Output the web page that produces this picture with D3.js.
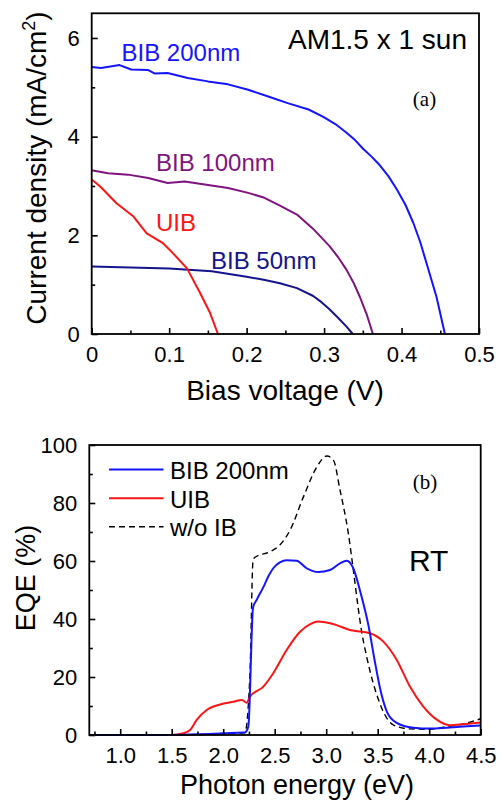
<!DOCTYPE html>
<html>
<head>
<meta charset="utf-8">
<script src="https://cdn.jsdelivr.net/npm/d3@7"></script>
<style>
  html, body { margin: 0; padding: 0; background: #fff; }
  svg { display: block; font-family: "Liberation Sans", Arial, Helvetica, sans-serif; }
</style>
</head>
<body>
<svg id="chart" width="502" height="800"></svg>
<script>
// ---------- Panel (a): J-V curves ----------
const jvVoltTicks = [0, 0.1, 0.2, 0.3, 0.4, 0.5];
const jvCurTicks = [0, 2, 4, 6];

const bib200V = [0, 0.012, 0.036, 0.051, 0.073, 0.081, 0.098, 0.124, 0.150, 0.176, 0.202, 0.227, 0.253, 0.28, 0.299, 0.315, 0.329, 0.340, 0.350, 0.361, 0.372, 0.383, 0.394, 0.405, 0.415, 0.424, 0.432, 0.445, 0.456];
const bib200J = [5.41, 5.39, 5.45, 5.36, 5.35, 5.28, 5.29, 5.19, 5.12, 5.06, 4.95, 4.82, 4.68, 4.55, 4.40, 4.25, 4.08, 3.93, 3.76, 3.60, 3.42, 3.20, 2.93, 2.62, 2.26, 1.87, 1.45, 0.76, 0];

const bib100V = [0, 0.021, 0.047, 0.073, 0.098, 0.12, 0.146, 0.176, 0.202, 0.223, 0.243, 0.265, 0.286, 0.307, 0.318, 0.329, 0.338, 0.346, 0.355, 0.363];
const bib100J = [3.32, 3.26, 3.23, 3.16, 3.06, 3.09, 3.03, 2.96, 2.86, 2.76, 2.60, 2.42, 2.13, 1.78, 1.56, 1.30, 1.04, 0.76, 0.40, 0];

const bib50V = [0, 0.05, 0.1, 0.155, 0.2, 0.222, 0.243, 0.265, 0.286, 0.297, 0.307, 0.318, 0.329, 0.337];
const bib50J = [1.37, 1.35, 1.33, 1.27, 1.16, 1.10, 1.03, 0.93, 0.77, 0.64, 0.50, 0.33, 0.15, 0];

const uibV = [0, 0.011, 0.032, 0.054, 0.071, 0.092, 0.103, 0.123, 0.140, 0.153, 0.163];
const uibJ = [3.13, 2.99, 2.65, 2.38, 2.04, 1.84, 1.67, 1.33, 0.83, 0.42, 0];

// ---------- Panel (b): EQE spectra ----------
const eqeEnergyTicks = [1.0, 1.5, 2.0, 2.5, 3.0, 3.5, 4.0, 4.5];
const eqeTicks = [0, 20, 40, 60, 80, 100];

const eqeBibE = [0.7, 1.0, 1.5, 1.8, 2.0, 2.195, 2.21, 2.244, 2.29, 2.325, 2.39, 2.44, 2.486, 2.55, 2.616, 2.713, 2.81, 2.923, 3.037, 3.134, 3.2, 3.263, 3.33, 3.41, 3.474, 3.53, 3.59, 3.68, 3.846, 4.01, 4.17, 4.33, 4.5];
const eqeBibV = [0, 0, 0, 0.3, 0.6, 0.9, 0.9, 2.9, 44, 46.6, 51, 54.8, 57.5, 59.5, 60.3, 60.1, 57.5, 56.2, 56.9, 59.2, 60.1, 57.5, 49.5, 37.8, 25, 15, 8, 4.3, 2.5, 2.2, 2.5, 2.9, 3.3];

const eqeUibE = [0.7, 1.0, 1.5, 1.613, 1.678, 1.743, 1.84, 1.97, 2.1, 2.18, 2.228, 2.26, 2.39, 2.486, 2.616, 2.746, 2.85, 2.923, 3.037, 3.1, 3.23, 3.425, 3.555, 3.685, 3.813, 3.943, 4.07, 4.2, 4.33, 4.5];
const eqeUibV = [0, 0, 0, 0.6, 1.7, 5.2, 8.6, 10.5, 11.5, 12.1, 11.1, 13.2, 16.7, 21.3, 29.3, 35.6, 38.3, 39.1, 38.5, 37.9, 36.2, 35.1, 32.2, 25.9, 16.7, 9.8, 5.4, 3.4, 3.7, 4.3];

const eqeNoIbE = [0.7, 1.0, 1.5, 2.0, 2.21, 2.26, 2.29, 2.31, 2.454, 2.55, 2.65, 2.78, 2.91, 3.005, 3.07, 3.134, 3.215, 3.263, 3.31, 3.345, 3.393, 3.457, 3.49, 3.555, 3.6, 3.65, 3.81, 4.01, 4.17, 4.33, 4.5];
const eqeNoIbV = [0, 0, 0, 0.5, 0.8, 21.3, 60.3, 61.3, 63.2, 65.5, 70.7, 82.2, 92.5, 96.2, 94.8, 84.5, 69.5, 57, 44, 35.5, 27, 17.8, 14, 8, 5.2, 3.5, 2.1, 2.0, 2.9, 3.8, 5.6];

const legendLabels = ["BIB 200nm", "UIB", "w/o IB"];

// ---------- drawing ----------
const svg = d3.select("#chart");
const BLUE = "#1414ff", RED = "#ff1414", PURPLE = "#7f147f", NAVY = "#14148c";

function zip(xs, ys) { return xs.map((x, i) => [x, ys[i]]); }

function drawFrame(g, x, y, xMajor, xMinor, yMajor, yMinor, xFmt, yFmt) {
  const [x0, x1] = x.range(), [y0, y1] = y.range(); // y0 bottom, y1 top
  const axB = d3.axisBottom(x).tickValues(xMajor).tickSizeInner(-6).tickSizeOuter(0).tickPadding(12).tickFormat(xFmt);
  const gb = g.append("g").attr("transform", `translate(0,${y0})`).call(axB);
  const axBm = d3.axisBottom(x).tickValues(xMinor).tickSizeInner(-3.5).tickSizeOuter(0).tickFormat("");
  const gbm = g.append("g").attr("transform", `translate(0,${y0})`).call(axBm);
  const axL = d3.axisLeft(y).tickValues(yMajor).tickSizeInner(-6).tickSizeOuter(0).tickPadding(12).tickFormat(yFmt);
  const gl = g.append("g").attr("transform", `translate(${x0},0)`).call(axL);
  const axLm = d3.axisLeft(y).tickValues(yMinor).tickSizeInner(-3.5).tickSizeOuter(0).tickFormat("");
  const glm = g.append("g").attr("transform", `translate(${x0},0)`).call(axLm);
  [gb, gbm, gl, glm].forEach(a => {
    a.select(".domain").remove();
    a.selectAll("line").attr("stroke", "#000").attr("stroke-width", 1.6);
    a.selectAll("text").attr("fill", "#000").attr("font-size", 22)
      .attr("font-family", '"Liberation Sans", Arial, sans-serif');
  });
  gb.selectAll("text").attr("dy", "0.71em");
  g.append("rect").attr("x", x0).attr("y", y1).attr("width", x1 - x0).attr("height", y0 - y1)
    .attr("fill", "none").attr("stroke", "#000").attr("stroke-width", 1.8);
}

function addLine(g, x, y, data, color, width, dash, curve) {
  const p = g.append("path").datum(data)
    .attr("d", d3.line().x(d => x(d[0])).y(d => y(d[1])).curve(curve || d3.curveLinear))
    .attr("fill", "none").attr("stroke", color).attr("stroke-width", width)
    .attr("stroke-linejoin", "round");
  if (dash) p.attr("stroke-dasharray", dash);
  return p;
}

// Panel (a)
{
  const x = d3.scaleLinear().domain([0, 0.5]).range([91.7, 479]);
  const y = d3.scaleLinear().domain([0, 6.5]).range([334, 13.3]);
  const g = svg.append("g");
  const curves = g.append("g");
  addLine(curves, x, y, zip(bib200V, bib200J), BLUE, 2);
  addLine(curves, x, y, zip(bib100V, bib100J), PURPLE, 2);
  addLine(curves, x, y, zip(bib50V, bib50J), NAVY, 2);
  addLine(curves, x, y, zip(uibV, uibJ), RED, 2);
  const xMinor = [0.05, 0.15, 0.25, 0.35, 0.45];
  const yMinor = [1, 3, 5];
  drawFrame(g, x, y, jvVoltTicks, xMinor, jvCurTicks, yMinor, d => d === 0 ? "0" : d3.format(".1f")(d), d3.format("d"));

  const lab = (txt, xx, yy, col, size) => g.append("text").attr("x", xx).attr("y", yy)
    .attr("fill", col).attr("font-size", size).attr("dominant-baseline", "central").text(txt);
  lab("BIB 200nm", 121.5, 52, BLUE, 24);
  lab("BIB 100nm", 156, 162.5, PURPLE, 24);
  lab("UIB", 156, 222, RED, 24);
  lab("BIB 50nm", 211, 260, NAVY, 24);
  lab("AM1.5 x 1 sun", 288, 39, "#000", 28);
  g.append("text").attr("x", 424.5).attr("y", 99).attr("text-anchor", "middle")
    .attr("dominant-baseline", "central").attr("font-family", '"Liberation Serif", "Times New Roman", serif')
    .attr("font-size", 21).text("(a)");

  g.append("text").attr("x", 285).attr("y", 400).attr("text-anchor", "middle")
    .attr("font-size", 28).text("Bias voltage (V)");
  const yt = g.append("text").attr("transform", "translate(46,168) rotate(-90)")
    .attr("text-anchor", "middle").attr("font-size", 28);
  yt.append("tspan").text("Current density (mA/cm");
  yt.append("tspan").attr("font-size", 18).attr("dy", -11).text("2");
  yt.append("tspan").attr("dy", 11).text(")");
}

// Panel (b)
{
  const x = d3.scaleLinear().domain([0.7, 4.5]).range([89.3, 480.7]);
  const y = d3.scaleLinear().domain([0, 100]).range([735, 445]);
  const g = svg.append("g");
  const curves = g.append("g");
  addLine(curves, x, y, zip(eqeNoIbE, eqeNoIbV), "#000", 1.4, "6,4", d3.curveMonotoneX);
  addLine(curves, x, y, zip(eqeUibE, eqeUibV), RED, 2, null, d3.curveMonotoneX);
  addLine(curves, x, y, zip(eqeBibE, eqeBibV), BLUE, 2, null, d3.curveMonotoneX);
  const xMinor = [0.75, 1.25, 1.75, 2.25, 2.75, 3.25, 3.75, 4.25];
  const yMinor = [10, 30, 50, 70, 90];
  drawFrame(g, x, y, eqeEnergyTicks, xMinor, eqeTicks, yMinor, d3.format(".1f"), d3.format("d"));

  const legColors = [BLUE, RED, "#000"];
  const legY = [469.5, 498.3, 526.8];
  legendLabels.forEach((t, i) => {
    const ln = g.append("line").attr("x1", 109).attr("x2", 163.5).attr("y1", legY[i]).attr("y2", legY[i])
      .attr("stroke", legColors[i]).attr("stroke-width", i === 2 ? 1.4 : 2);
    if (i === 2) ln.attr("stroke-dasharray", "6,4");
    g.append("text").attr("x", 170).attr("y", legY[i] + 1).attr("dominant-baseline", "central")
      .attr("font-size", 24).attr("fill", "#000").text(t);
  });
  g.append("text").attr("x", 425).attr("y", 482).attr("text-anchor", "middle")
    .attr("dominant-baseline", "central").attr("font-family", '"Liberation Serif", "Times New Roman", serif')
    .attr("font-size", 21).text("(b)");
  g.append("text").attr("x", 409).attr("y", 560).attr("dominant-baseline", "central")
    .attr("font-size", 30).text("RT");

  g.append("text").attr("x", 297).attr("y", 794).attr("text-anchor", "middle")
    .attr("font-size", 27).text("Photon energy (eV)");
  g.append("text").attr("transform", "translate(35,578) rotate(-90)")
    .attr("text-anchor", "middle").attr("font-size", 27).text("EQE (%)");
}
</script>
</body>
</html>
